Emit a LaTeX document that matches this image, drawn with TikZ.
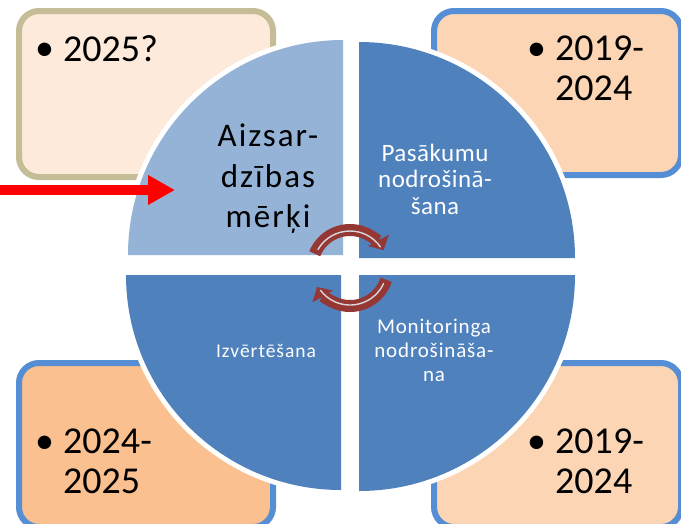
\documentclass[tikz,border=0pt]{standalone}
\usepackage{fontspec}
\setmainfont{Carlito}
\usetikzlibrary{arrows.meta}
\definecolor{qlight}{HTML}{95B3D7}
\definecolor{qdark}{HTML}{4F81BD}
\definecolor{tanline}{HTML}{C4BD97}
\definecolor{blueline}{HTML}{558ED5}
\definecolor{fillA}{HTML}{FDEADA}
\definecolor{fillB}{HTML}{FCD5B5}
\definecolor{fillC}{HTML}{FAC090}
\definecolor{arcred}{HTML}{953735}
\definecolor{arclight}{HTML}{D9D9D9}
\begin{document}
\begin{tikzpicture}[x=1pt,y=1pt,
  yearbox/.style={line width=6pt, rounded corners=20pt, anchor=north west, inner sep=0pt},
  quadfill/.style={fill=#1, preaction={draw=white, line width=10pt}},
  yeartext/.style={font=\fontsize{38}{40}\selectfont, inner sep=0pt, align=left, anchor=north west},
  bulletmark/.style={font=\fontsize{38}{40}\selectfont, inner sep=0pt, anchor=base west},
  qtext/.style={inner sep=0pt, align=center, text=white},
  cyclearrow/.style={draw=arcred, line width=12pt, -{Triangle[width=23pt,length=11pt]}},
  cyclehigh/.style={draw=arclight, line width=1.4pt, line cap=round},
  redarrow/.style={draw=red, line width=10pt, -{Triangle[width=28pt,length=27pt]}}
]
\useasboundingbox (0,0) rectangle (681,-523);
\clip (0,0) rectangle (681,-523);
\fill[white] (0,0) rectangle (681,-523);

% corner boxes
\node[yearbox, draw=tanline, fill=fillA, minimum width=254pt, minimum height=166pt] (boxTL) at (16,-8) {};
\node[yearbox, draw=blueline, fill=fillB, minimum width=247pt, minimum height=164pt] (boxTR) at (431,-8) {};
\node[yearbox, draw=blueline, fill=fillC, minimum width=254pt, minimum height=164pt] (boxBL) at (16,-360) {};
\node[yearbox, draw=blueline, fill=fillB, minimum width=247pt, minimum height=164pt] (boxBR) at (431,-360) {};

% box texts
\node[bulletmark] (bTL) at (35,-60) {•};
\node[yeartext] (yTL) at (63,-35.5) {2025?};
\node[bulletmark] (bTR) at (527,-60) {•};
\node[yeartext] (yTR) at (555,-35.5) {2019-\\2024};
\node[bulletmark] (bBL) at (35,-453) {•};
\node[yeartext] (yBL) at (63,-428.5) {2024-\\2025};
\node[bulletmark] (bBR) at (527,-453) {•};
\node[yeartext] (yBR) at (555,-428.5) {2019-\\2024};

% quadrants
\path[quadfill=qlight] (343,-255) -- ++(-215,0) arc[start angle=180,end angle=90,radius=215] -- cycle;
\path[quadfill=qdark] (359,-258) -- ++(0,216) arc[start angle=90,end angle=0,radius=216] -- cycle;
\path[quadfill=qdark] (341,-275) -- ++(-215,0) arc[start angle=180,end angle=270,radius=215] -- cycle;
\path[quadfill=qdark] (359,-275) -- ++(216,0) arc[start angle=0,end angle=-90,radius=216] -- cycle;

% quadrant texts
\node[inner sep=0pt, align=center, font=\fontsize{33}{40.5}\selectfont\addfontfeatures{LetterSpace=6}, anchor=north] (tAiz) at (268,-124) {Aizsar-\\dzības\\mērķi};
\node[qtext, font=\fontsize{25}{26.5}\selectfont\addfontfeatures{LetterSpace=2}, anchor=north] (tPas) at (435,-143.5) {Pasākumu\\nodrošinā-\\šana};
\node[qtext, font=\fontsize{19.5}{24}\selectfont\addfontfeatures{LetterSpace=5}, anchor=base] (tIzv) at (266,-357) {Izvērtēšana};
\node[qtext, font=\fontsize{21}{24}\selectfont\addfontfeatures{LetterSpace=4}, anchor=north] (tMon) at (434,-318.5) {Monitoringa\\nodrošināša-\\na};

% cycle arrows
\coordinate (cc) at (350,-268);
\draw[cyclearrow] ([shift={(158:38)}]cc) arc[start angle=158,end angle=28,radius=38];
\draw[cyclehigh] ([shift={(150:37)}]cc) arc[start angle=150,end angle=35,radius=37];
\draw[cyclearrow] ([shift={(-18:38)}]cc) arc[start angle=-18,end angle=-150,radius=38];
\draw[cyclehigh] ([shift={(-25:37)}]cc) arc[start angle=-25,end angle=-143,radius=37];

% red arrow
\coordinate (rs) at (0,-190);
\coordinate (re) at (175,-190);
\draw[redarrow] (rs) -- (re);
\end{tikzpicture}
\end{document}
